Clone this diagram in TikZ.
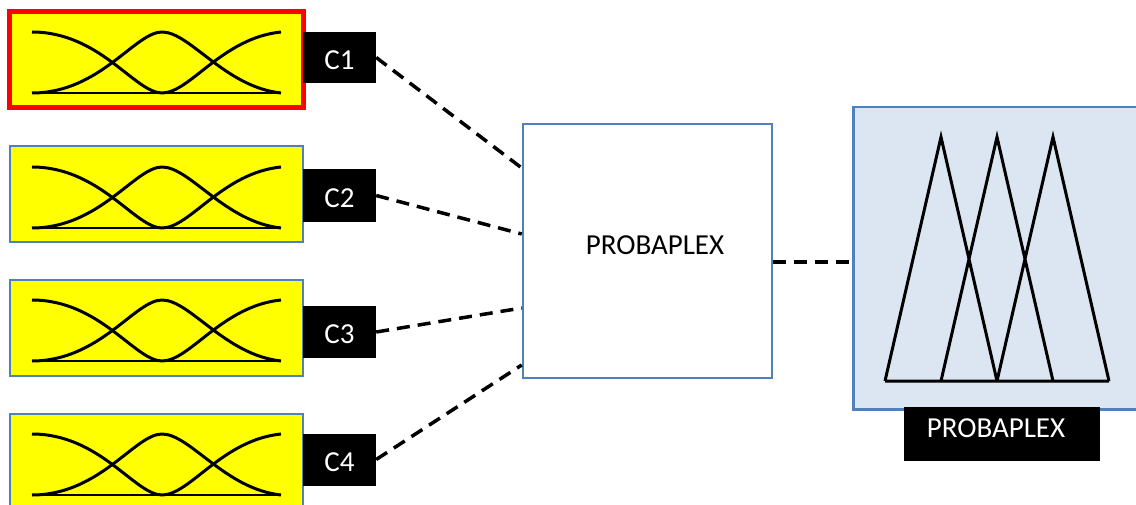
\documentclass[tikz,border=0pt]{standalone}
\usepackage{fontspec}
\setmainfont{Carlito}
\definecolor{boxblue}{RGB}{79,129,189}
\definecolor{paleblue}{RGB}{220,230,242}
\definecolor{mfyellow}{RGB}{255,255,0}
\tikzset{
  ybox/.style={draw=boxblue, line width=2.5pt, fill=mfyellow, rectangle, inner sep=0pt},
  redbox/.style={ybox, draw=red, line width=5pt},
  tag/.style={fill=black, text=white, rectangle, inner sep=0pt, text height=24pt, text depth=0pt},
  txt/.style={inner sep=0pt},
  link/.style={line width=3.5pt, dash pattern=on 13pt off 8pt},
  curve/.style={line width=3pt, line join=round},
  mf/.pic={
    \draw[curve] (32,0) .. controls (100,0) and (135,61) .. (162,61)
                        .. controls (190,61) and (222,6) .. (281,0);
    \draw[curve] (32,61) .. controls (100,61) and (135,0) .. (162,0)
                         .. controls (190,0) and (225,55) .. (281,61);
    \draw[line width=1.2pt] (32,61) -- (281,61);
  }
}
\begin{document}
\begin{tikzpicture}[x=1pt,y=-1pt,font=\fontsize{29}{34}\selectfont]
\useasboundingbox (0,0) rectangle (1136,505);
\begin{scope}
\clip (0,0) rectangle (1136,505);

% four yellow input panels with their membership curves
\node[redbox, minimum width=294pt, minimum height=96pt] (b1) at (156.5,59.5) {};
\node[ybox, minimum width=293pt, minimum height=96pt] (b2) at (156.5,194) {};
\node[ybox, minimum width=293pt, minimum height=96pt] (b3) at (156.5,328) {};
\node[ybox, minimum width=293pt, minimum height=96pt] (b4) at (156.5,462) {};
\pic at (0,32) {mf};
\pic at (0,167) {mf};
\pic at (0,300) {mf};
\pic at (0,434) {mf};

% black class tags
\node[tag, minimum width=73pt, minimum height=51pt] (c1) at (339.5,57.5) {C1};
\node[tag, minimum width=73pt, minimum height=53pt] (c2) at (339.5,195.5) {C2};
\node[tag, minimum width=73pt, minimum height=52pt] (c3) at (339.5,332) {C3};
\node[tag, minimum width=73pt, minimum height=52pt] (c4) at (339.5,459.5) {C4};

% central combiner
\node[draw=boxblue, line width=2.5pt, fill=white, rectangle, minimum width=249pt, minimum height=254pt] (p) at (647.5,251) {};
\node[txt] (ptext) at (655,245) {PROBAPLEX};

% output panel with triangular sets
\node[draw=boxblue, line width=2.5pt, fill=paleblue, rectangle, anchor=north west,
      minimum width=300pt, minimum height=302pt] (r) at (852,106) {};
\draw[line width=3pt, line join=miter]
  (885,381) -- (941,137) -- (997,381)
  (941,381) -- (997,137) -- (1053,381)
  (997,381) -- (1053,137) -- (1109,381)
  (885,381) -- (1109,381);
\node[fill=black, rectangle, minimum width=196pt, minimum height=54pt, inner sep=0pt] (rl) at (1002,434) {};
\node[txt, text=white] (rtext) at (996,428) {PROBAPLEX};

% dashed connections
\draw[link] (c1.east) -- ([yshift=83pt]p.west);
\draw[link] (c2.east) -- ([yshift=17pt]p.west);
\draw[link] (c3.east) -- ([yshift=-57pt]p.west);
\draw[link] (c4.east) -- ([yshift=-114pt]p.west);
\coordinate (pe) at ([yshift=-11pt]p.east);
\coordinate (re) at ([xshift=5pt]pe -| r.west);
\draw[link] (pe) -- (re);
\end{scope}
\end{tikzpicture}
\end{document}
